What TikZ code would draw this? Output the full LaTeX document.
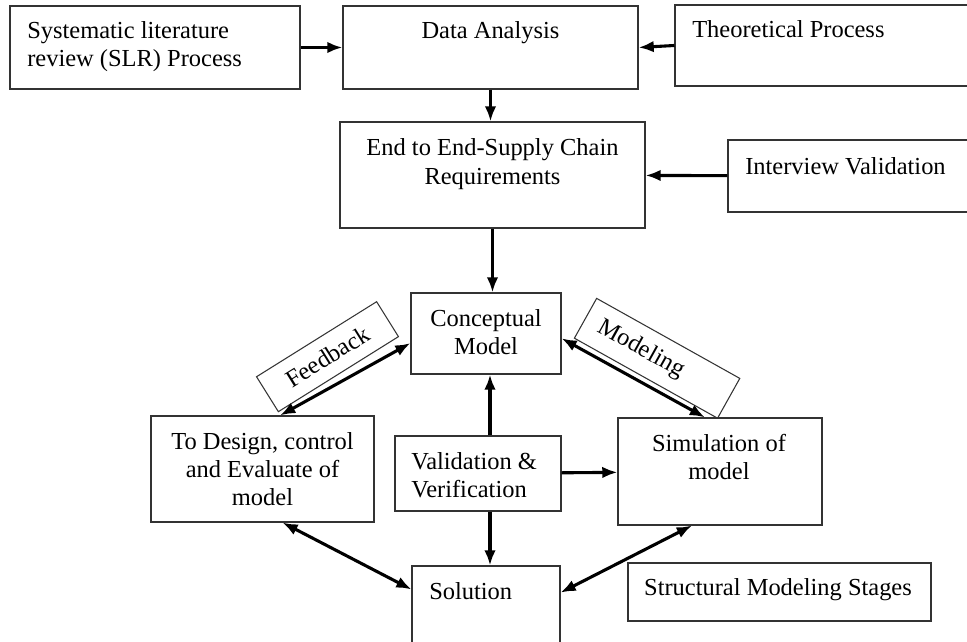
\documentclass[tikz,border=0pt]{standalone}
\usepackage{fontspec}
\setmainfont{Liberation Serif}
\usepackage{tikz}
\usetikzlibrary{arrows.meta}
\newcommand{\boxfont}{\fontsize{17.4pt}{20.1pt}\selectfont}

\begin{document}
\begin{tikzpicture}[>={Latex[length=3.8mm,width=2.9mm]}]
	\tikzstyle{box} = [draw=black!80, line width=0.75pt, shape=rectangle, inner sep=0pt]
	\tikzstyle{txt} = [inner sep=0pt, font=\boxfont]
	\tikzstyle{arr} = [line width=2.2pt]
	\useasboundingbox (0,0) rectangle (24.175,16.05);

	% boxes
	\node[box, minimum width=7.25cm, minimum height=2.075cm] (SLR) at (3.875,14.8625) {};
	\node[box, minimum width=7.375cm, minimum height=2.075cm] (Data) at (12.2625,14.8625) {};
	\node[box, minimum width=7.5cm, minimum height=2.025cm] (Theory) at (20.625,14.9125) {};
	\node[box, minimum width=7.625cm, minimum height=2.65cm] (Req) at (12.3125,11.675) {};
	\node[box, minimum width=6.175cm, minimum height=1.8cm] (Interview) at (21.2875,11.65) {};
	\node[box, minimum width=3.75cm, minimum height=2.025cm] (Concept) at (12.15,7.7125) {};
	\node[box, minimum width=5.575cm, minimum height=2.65cm] (Design) at (6.5625,4.325) {};
	\node[box, minimum width=4.15cm, minimum height=1.875cm] (Valid) at (11.95,4.2125) {};
	\node[box, minimum width=5.1cm, minimum height=2.675cm] (Sim) at (18.0,4.2625) {};
	\node[box, minimum width=3.7cm, minimum height=2.6cm] (Sol) at (12.15,0.6) {};
	\node[box, minimum width=7.575cm, minimum height=1.45cm] (Stages) at (19.4875,1.25) {};

	% texts
	\node[txt, anchor=north west, align=left] (SLRtxt) at (0.675,15.525) {Systematic literature\\review (SLR) Process};
	\node[txt, anchor=north] (Datatxt) at (12.2625,15.51) {Data Analysis};
	\node[txt, anchor=north west] (Theorytxt) at (17.3,15.5425) {Theoretical Process};
	\node[txt, anchor=north, align=center] (Reqtxt) at (12.3125,12.585) {End to End-Supply Chain\\Requirements};
	\node[txt, anchor=north west] (Interviewtxt) at (18.625,12.1175) {Interview Validation};
	\node[txt, anchor=north, align=center] (Concepttxt) at (12.15,8.3175) {Conceptual\\Model};
	\node[txt, anchor=north, align=center] (Designtxt) at (6.5625,5.2525) {To Design, control\\and Evaluate of\\model};
	\node[txt, anchor=north west, align=left] (Validtxt) at (10.275,4.7525) {Validation \&\\Verification};
	\node[txt, anchor=north, align=center] (Simtxt) at (17.975,5.21) {Simulation of\\model};
	\node[txt, anchor=north west] (Soltxt) at (10.725,1.5025) {Solution};
	\node[txt, anchor=north] (Stagestxt) at (19.45,1.585) {Structural Modeling Stages};

	% tilted tags
	\node[box, rotate=32, minimum width=3.54cm, minimum height=1.03cm, font=\boxfont] (Feedback) at (8.1875,7.1325) {Feedback};
	\node[box, rotate=-29.2, minimum width=4.1cm, minimum height=1.14cm, text width=3.3cm, inner xsep=0.4cm, align=left, font=\boxfont] (Modeling) at (16.4275,7.0925) {Modeling};

	% arrows
	\draw[arr, ->] (SLR) -- (Data);
	\draw[arr, ->] (Theory.west) -- (Data.east);
	\draw[arr, ->] (Data.south) -- (Data.south |- Req.north);
	\draw[arr, ->] (Interview) -- (Req);
	\draw[arr, ->] (Req.south) -- (Req.south |- Concept.north);
	\draw[arr, ->] ([xshift=0.1cm]Valid.north -| Concept) -- ([xshift=0.1cm]Concept.south);
	\draw[arr, ->] ([xshift=0.1cm]Valid.south -| Sol) -- ([xshift=0.1cm]Sol.north);
	\draw[arr, ->] (Valid) -- (Sim);
	\draw[arr, <->] ([yshift=-0.24cm]Concept.west) -- ([xshift=0.44cm]Design.north);
	\draw[arr, <->] ([yshift=-0.12cm]Concept.east) -- ([xshift=-0.375cm]Sim.north);
	\draw[arr, <->] ([xshift=0.5cm]Design.south) -- ([yshift=-0.6cm]Sol.north west);
	\draw[arr, <->] ([xshift=-0.7cm]Sim.south) -- ([yshift=-0.68cm]Sol.north east);
\end{tikzpicture}
\end{document}
